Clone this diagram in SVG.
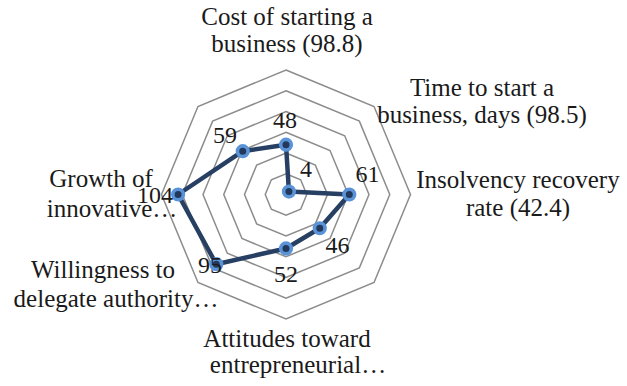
<svg xmlns="http://www.w3.org/2000/svg" width="627" height="386" viewBox="0 0 627 386">
<style>
.grid{fill:none;stroke:#8c8c8c;stroke-width:1.5}
.series{fill:none;stroke:#263f63;stroke-width:4.5;stroke-linejoin:round}
.mk{fill:#23395b;stroke:#5b93d8;stroke-width:3.6}
.ax{font-family:'Liberation Serif',serif;font-size:25px;fill:#1a1a1a;text-anchor:middle}
.dl{font-family:'Liberation Serif',serif;font-size:24px;fill:#1a1a1a;text-anchor:middle}
</style>
<rect width="627" height="386" fill="#ffffff"/>
<g id="grid">
<polygon class="grid" points="286,173.75 300.67,179.83 306.75,194.5 300.67,209.17 286,215.25 271.33,209.17 265.25,194.5 271.33,179.83"/>
<polygon class="grid" points="286,153 315.35,165.15 327.5,194.5 315.35,223.85 286,236 256.65,223.85 244.5,194.5 256.65,165.15"/>
<polygon class="grid" points="286,132.25 330.02,150.48 348.25,194.5 330.02,238.52 286,256.75 241.98,238.52 223.75,194.5 241.98,150.48"/>
<polygon class="grid" points="286,111.5 344.69,135.81 369,194.5 344.69,253.19 286,277.5 227.31,253.19 203,194.5 227.31,135.81"/>
<polygon class="grid" points="286,90.75 359.36,121.14 389.75,194.5 359.36,267.86 286,298.25 212.64,267.86 182.25,194.5 212.64,121.14"/>
<polygon class="grid" points="286,70 374.03,106.47 410.5,194.5 374.03,282.53 286,319 197.97,282.53 161.5,194.5 197.97,106.47"/>
</g>
<g id="connectors">
<polygon class="series" points="286,144.7 288.93,191.57 349.29,194.5 319.75,228.25 286,248.45 216.31,264.19 178.1,194.5 242.72,151.22"/>
</g>
<g id="points">
<circle class="mk" cx="286" cy="144.7" r="5.3"/>
<circle class="mk" cx="288.93" cy="191.57" r="5.3"/>
<circle class="mk" cx="349.29" cy="194.5" r="5.3"/>
<circle class="mk" cx="319.75" cy="228.25" r="5.3"/>
<circle class="mk" cx="286" cy="248.45" r="5.3"/>
<circle class="mk" cx="216.31" cy="264.19" r="5.3"/>
<circle class="mk" cx="178.1" cy="194.5" r="5.3"/>
<circle class="mk" cx="242.72" cy="151.22" r="5.3"/>
</g>
<g id="data-labels">
<text class="dl" x="285" y="128">48</text>
<text class="dl" x="306" y="177">4</text>
<text class="dl" x="367.5" y="182">61</text>
<text class="dl" x="337.5" y="253">46</text>
<text class="dl" x="286" y="282">52</text>
<text class="dl" x="210" y="273">95</text>
<text class="dl" x="155" y="203">104</text>
<text class="dl" x="225" y="143">59</text>
</g>
<g id="axis-cost">
<text class="ax" x="287" y="25">Cost of starting a</text>
<text class="ax" x="287" y="52">business (98.8)</text>
</g>
<g id="axis-time">
<text class="ax" x="482" y="96">Time to start a</text>
<text class="ax" x="482" y="123">business, days (98.5)</text>
</g>
<g id="axis-insolvency">
<text class="ax" x="518" y="188">Insolvency recovery</text>
<text class="ax" x="518" y="216">rate (42.4)</text>
</g>
<g id="axis-attitudes">
<text class="ax" x="287" y="347">Attitudes toward</text>
<text class="ax" x="298" y="373">entrepreneurial…</text>
</g>
<g id="axis-willingness">
<text class="ax" x="103" y="278">Willingness to</text>
<text class="ax" x="116" y="307">delegate authority…</text>
</g>
<g id="axis-growth">
<text class="ax" x="101" y="187">Growth of</text>
<text class="ax" x="112" y="217">innovative…</text>
</g>
</svg>
